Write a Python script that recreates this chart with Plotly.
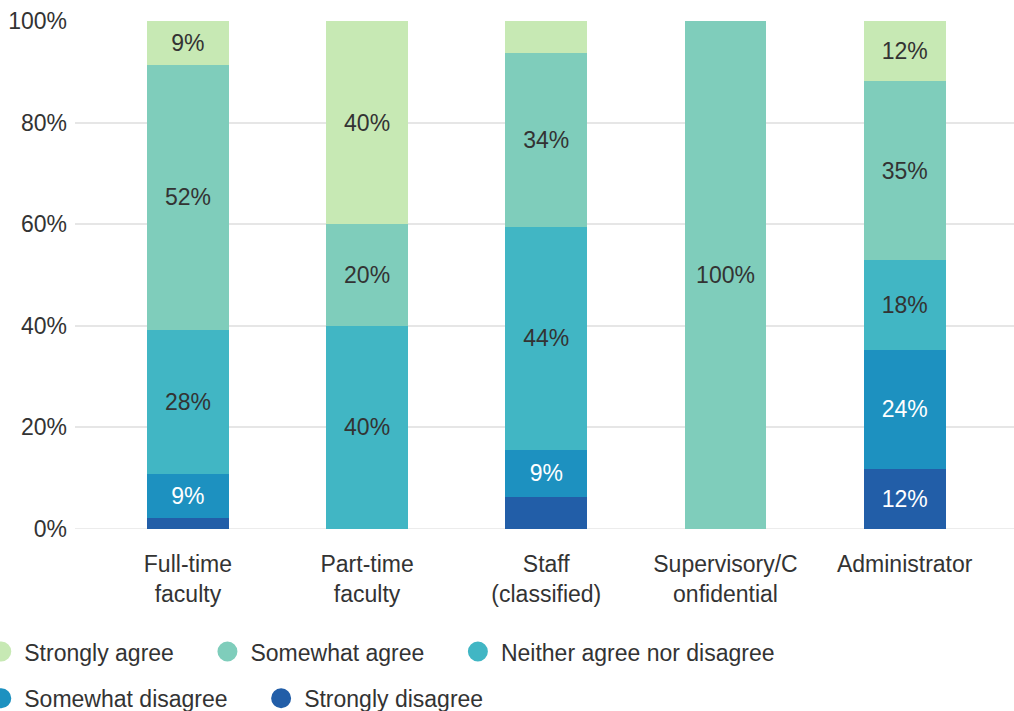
import plotly.graph_objects as go

categories = ["Full-time<br>faculty", "Part-time<br>faculty", "Staff<br>(classified)",
              "Supervisory/C<br>onfidential", "Administrator"]

series_names = ["Strongly disagree", "Somewhat disagree", "Neither agree nor disagree",
                "Somewhat agree", "Strongly agree"]

strongly_disagree = [2.2, 0, 6.25, 0, 11.8]
somewhat_disagree = [8.7, 0, 9.4, 0, 23.5]
neither = [28.3, 40, 43.75, 0, 17.6]
somewhat_agree = [52.2, 20, 34.4, 100, 35.3]
strongly_agree = [8.7, 40, 6.25, 0, 11.8]

colors = ["#225ea8", "#1d91c0", "#41b6c4", "#7fcdbb", "#c7e9b4"]
label_colors = ["#ffffff", "#ffffff", "#333333", "#333333", "#333333"]
legend_rows = ["legend2", "legend2", "legend", "legend", "legend"]

y_ticks = [0, 20, 40, 60, 80, 100]
y_tick_labels = ["0%", "20%", "40%", "60%", "80%", "100%"]

FONT = "Liberation Sans, Arial, sans-serif"
TXT = "#333333"
FS = 23
PAD = "\u00a0" * 4

series_values = [strongly_disagree, somewhat_disagree, neither, somewhat_agree, strongly_agree]

fig = go.Figure()
xs = list(range(len(categories)))
for name, vals, col, lc in zip(series_names, series_values, colors, label_colors):
    labels = [f"{round(v)}%" if v >= 8 else "" for v in vals]
    fig.add_trace(go.Bar(
        x=xs, y=vals, name=name, marker=dict(color=col, line=dict(width=0)),
        width=0.457, text=labels, textposition="inside", insidetextanchor="middle",
        textangle=0, constraintext="none",
        textfont=dict(color=lc, size=FS, family=FONT),
        showlegend=False, hoverinfo="skip",
    ))

# legend entries (circle markers) in reference order, two rows
for name, col, lg in reversed(list(zip(series_names, colors, legend_rows))):
    fig.add_trace(go.Scatter(
        x=[None], y=[None], mode="markers", name=name + PAD, legend=lg,
        marker=dict(symbol="circle", size=16, color=col, line=dict(color=col, width=4)),
        showlegend=True,
    ))

legend_common = dict(orientation="h", xanchor="left", yanchor="top",
                     font=dict(size=FS, color=TXT, family=FONT), traceorder="normal",
                     itemwidth=36, bgcolor="rgba(0,0,0,0)")

fig.update_layout(
    width=1014, height=711,
    barmode="stack",
    plot_bgcolor="white", paper_bgcolor="white",
    margin=dict(l=75, r=0, t=21, b=182, autoexpand=False),
    font=dict(family=FONT, color=TXT, size=FS),
    legend=dict(x=-0.103, y=-0.199, **legend_common),
    legend2=dict(x=-0.103, y=-0.291, **legend_common),
    xaxis=dict(tickmode="array", tickvals=xs, ticktext=categories,
               range=[-0.63, 4.61], showgrid=False, zeroline=False, showline=False,
               ticks="", ticklabelstandoff=19,
               tickfont=dict(size=FS, color=TXT, family=FONT)),
    yaxis=dict(range=[0, 100], tickmode="array", tickvals=y_ticks, ticktext=y_tick_labels,
               showgrid=True, gridcolor="#e6e6e6", gridwidth=1.5, zeroline=False,
               showline=False, ticks="", ticklabelstandoff=7,
               tickfont=dict(size=FS, color=TXT, family=FONT)),
)
fig.add_hline(y=0, line=dict(color="#e6e6e6", width=1.5), layer="below")

fig.write_html("out.html", config={"displayModeBar": False},
               post_script="document.body.style.margin='0';document.body.style.overflow='hidden';")
